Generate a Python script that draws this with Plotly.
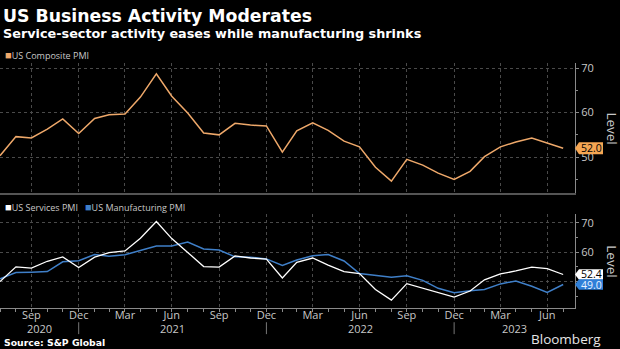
import pandas as pd
import plotly.graph_objects as go

# Monthly PMI readings, Jul 2020 - Jul 2023 (plotted at month end)
months = pd.date_range("2020-07-31", "2023-07-31", freq=pd.offsets.MonthEnd())

composite = [50.3, 54.6, 54.3, 56.3, 58.6, 55.3,
             58.7, 59.5, 59.7, 63.5, 68.7, 63.7, 59.9, 55.4, 55.0, 57.6, 57.2, 57.0,
             51.1, 55.9, 57.7, 56.0, 53.6, 52.3, 47.7, 44.6, 49.5, 48.2, 46.4, 45.0,
             46.8, 50.1, 52.3, 53.4, 54.3, 53.2, 52.0]
services = [50.0, 55.0, 54.6, 56.9, 58.4, 54.8,
            58.3, 59.8, 60.4, 64.7, 70.4, 64.6, 59.9, 55.1, 54.9, 58.7, 58.0, 57.6,
            51.2, 56.5, 58.0, 55.6, 53.4, 52.7, 47.3, 43.7, 49.3, 47.8, 46.2, 44.7,
            46.8, 50.6, 52.6, 53.6, 54.9, 54.4, 52.4]
manufacturing = [50.9, 53.1, 53.2, 53.4, 56.7, 57.1,
                 59.2, 58.6, 59.1, 60.5, 62.1, 62.1, 63.4, 61.1, 60.7, 58.4, 58.3, 57.7,
                 55.5, 57.3, 58.8, 59.2, 57.0, 52.7, 52.2, 51.5, 52.0, 50.4, 47.7, 46.2,
                 46.9, 47.3, 49.2, 50.2, 48.4, 46.3, 49.0]

quarter_ends = pd.date_range("2020-09-30", "2023-06-30", freq=pd.offsets.QuarterEnd())
quarter_labels = [d.strftime("%b") for d in quarter_ends]
years = [2020, 2021, 2022, 2023]
y_ticks = [50, 60, 70]
y_minor = [45, 55, 65]

X_RANGE = [pd.Timestamp("2020-07-31"), pd.Timestamp("2023-08-23")]
TOP_RANGE = [41.85, 71.05]
BOT_RANGE = [40.9, 72.9]
TOP_DOM = [0.4499, 0.8252]
BOT_DOM = [0.1175, 0.3897]
W, H = 620, 349
PLOT_W = 575

C_COMP = "#eea86a"
C_SERV = "#ffffff"
C_MANU = "#3f7fc8"
GRID = "#4a4a4a"
AXIS = "#8a8a8a"
TXT = "#c8c8c8"
FONT = "Open Sans"
BOLD = "DejaVu Sans"

fig = go.Figure()
fig.add_trace(go.Scatter(x=months, y=composite, mode="lines",
                         line=dict(color=C_COMP, width=1.5), xaxis="x", yaxis="y"))
fig.add_trace(go.Scatter(x=months, y=manufacturing, mode="lines",
                         line=dict(color=C_MANU, width=1.5), xaxis="x2", yaxis="y2"))
fig.add_trace(go.Scatter(x=months, y=services, mode="lines",
                         line=dict(color=C_SERV, width=1.3), xaxis="x2", yaxis="y2"))

yaxis_common = dict(
    side="right", tickvals=y_ticks, showgrid=True, gridcolor=GRID, griddash="dot",
    gridwidth=1, showline=True, linecolor=AXIS, linewidth=1, ticks="outside",
    ticklen=3, tickcolor=AXIS, zeroline=False,
    minor=dict(tickvals=y_minor, ticks="outside", ticklen=2, tickcolor=AXIS, showgrid=False),
    tickfont=dict(family=FONT, size=11, color=TXT),
)
xaxis_common = dict(
    range=X_RANGE, tickvals=quarter_ends, showgrid=True, gridcolor=GRID,
    griddash="dot", gridwidth=1, zeroline=False,
)

fig.update_layout(
    width=W, height=H,
    paper_bgcolor="#000000", plot_bgcolor="#000000",
    margin=dict(l=0, r=W - PLOT_W, t=0, b=0),
    showlegend=False,
    xaxis=dict(**xaxis_common, anchor="y", showticklabels=False,
               showline=True, linecolor="#555555", linewidth=2),
    yaxis=dict(**yaxis_common, domain=TOP_DOM, range=TOP_RANGE, anchor="x"),
    xaxis2=dict(**xaxis_common, anchor="y2", matches="x", ticktext=quarter_labels,
                showline=True, linecolor=AXIS, linewidth=1, ticks="outside",
                ticklen=3, tickcolor=AXIS, ticklabelstandoff=-7,
                minor=dict(tickvals=months, ticks="outside", ticklen=3, tickcolor=AXIS),
                tickfont=dict(family=FONT, size=11, color=TXT)),
    yaxis2=dict(**yaxis_common, domain=BOT_DOM, range=BOT_RANGE, anchor="x2"),
)

ann = []
# Titles
ann.append(dict(text="<b>US Business Activity Moderates</b>", x=0, y=(H - 13) / H,
                xref="paper", yref="paper", xanchor="left", yanchor="middle", xshift=1,
                showarrow=False, font=dict(family=BOLD, size=17.3, color="#ffffff")))
ann.append(dict(text="<b>Service-sector activity eases while manufacturing shrinks</b>",
                x=0, y=(H - 31) / H, xref="paper", yref="paper", xanchor="left",
                yanchor="middle", xshift=1, showarrow=False,
                font=dict(family=BOLD, size=12.8, color="#ffffff")))
# Legends
ann.append(dict(text=f"<span style='color:{C_COMP}; font-size:11px'>■</span>US Composite PMI",
                x=0, y=(H - 51.5) / H, xref="paper", yref="paper", xanchor="left",
                yanchor="middle", xshift=3, showarrow=False,
                font=dict(family=FONT, size=9, color=TXT)))
ann.append(dict(text=f"<span style='color:{C_SERV}; font-size:11px'>■</span>US Services PMI   "
                     f"<span style='color:{C_MANU}; font-size:11px'>■</span>US Manufacturing PMI",
                x=0, y=(H - 205) / H, xref="paper", yref="paper", xanchor="left",
                yanchor="middle", xshift=3, showarrow=False,
                font=dict(family=FONT, size=9, color=TXT)))
# Axis titles
for dom in (TOP_DOM, BOT_DOM):
    ann.append(dict(text="Level", x=1 + 37 / PLOT_W, y=(dom[0] + dom[1]) / 2,
                    xref="paper", yref="paper", xanchor="center", yanchor="middle",
                    textangle=90, showarrow=False,
                    font=dict(family=FONT, size=13.5, color=TXT)))

# Year labels centred on the visible part of each year, with separators at year ends
shapes = []
for yr in years:
    start = max(pd.Timestamp(f"{yr - 1}-12-31"), X_RANGE[0])
    end = min(pd.Timestamp(f"{yr}-12-31"), X_RANGE[1])
    mid = start + (end - start) / 2
    ann.append(dict(text=str(yr), x=mid, y=(H - 328) / H, xref="x2", yref="paper",
                    xanchor="center", yanchor="middle", showarrow=False,
                    font=dict(family=FONT, size=11, color=TXT)))
    sep = pd.Timestamp(f"{yr}-12-31")
    if X_RANGE[0] < sep < X_RANGE[1]:
        shapes.append(dict(type="line", xref="x2", yref="paper", x0=sep, x1=sep,
                           y0=(H - 334) / H, y1=(H - 322) / H,
                           line=dict(color="#777777", width=1)))

# Last-value tags pointing at the axis
def value_tag(value, yref, dom, rng, bg, fg, half_px):
    px_per_unit = (dom[1] - dom[0]) * H / (rng[1] - rng[0])
    h = half_px / px_per_unit
    x1 = 1 + 4 / PLOT_W
    x2 = 1 + 28 / PLOT_W
    path = (f"M 1,{value} L {x1},{value + h} L {x2},{value + h} "
            f"L {x2},{value - h} L {x1},{value - h} Z")
    shapes.append(dict(type="path", path=path, xref="paper", yref=yref,
                       fillcolor=bg, line=dict(width=0), layer="above"))
    ann.append(dict(text=f"{value:.1f}", x=1 + 16 / PLOT_W, y=value, xref="paper",
                    yref=yref, xanchor="center", yanchor="middle", showarrow=False,
                    font=dict(family=FONT, size=10.5, color=fg)))

value_tag(composite[-1], "y", TOP_DOM, TOP_RANGE, "#f5a653", "#000000", 6)
value_tag(services[-1], "y2", BOT_DOM, BOT_RANGE, "#ffffff", "#000000", 5.2)
value_tag(manufacturing[-1], "y2", BOT_DOM, BOT_RANGE, "#2f7fd8", "#e8f2ff", 5.2)

# Footer
ann.append(dict(text="<b>Source: S&P Global</b>", x=0, y=(H - 342) / H, xref="paper",
                yref="paper", xanchor="left", yanchor="middle", xshift=2,
                showarrow=False, font=dict(family=BOLD, size=9.3, color="#ffffff")))
ann.append(dict(text="Bloomberg", x=1 + 28 / PLOT_W, y=(H - 339) / H, xref="paper",
                yref="paper", xanchor="right", yanchor="middle", showarrow=False,
                font=dict(family=FONT, size=13.5, color="#e6e6e6")))

fig.update_layout(annotations=ann, shapes=shapes)
fig.write_html("out.html")
